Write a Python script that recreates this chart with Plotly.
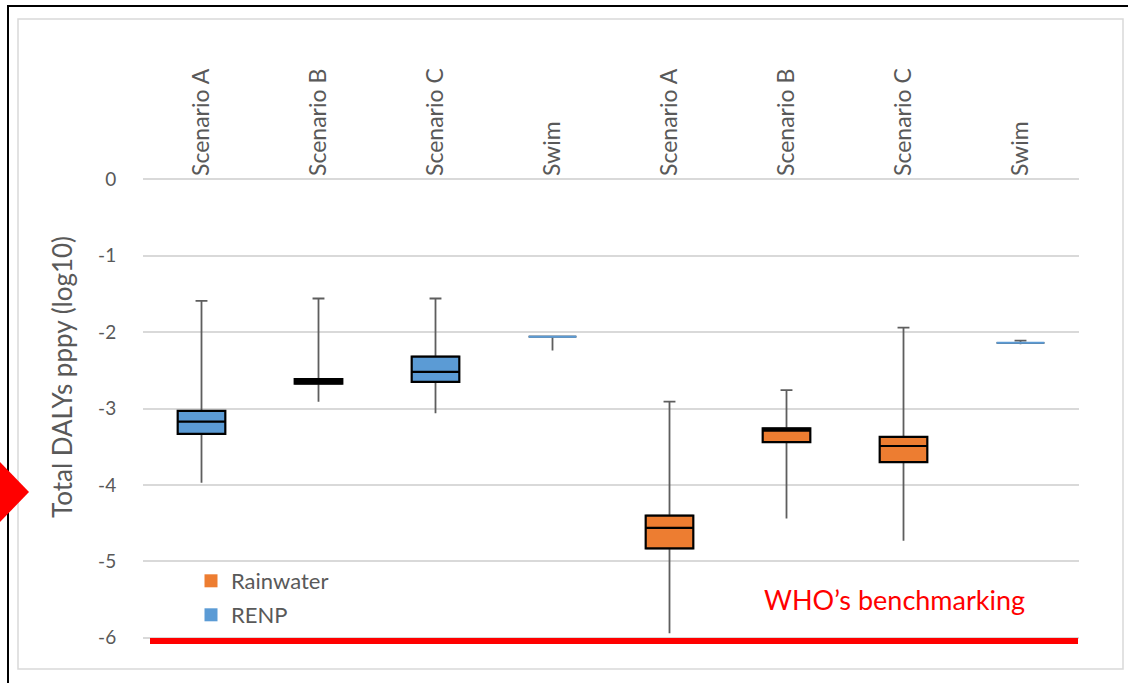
import plotly.graph_objects as go

# ---------------- data ----------------
categories = ["Scenario A", "Scenario B", "Scenario C", "Swim",
              "Scenario A", "Scenario B", "Scenario C", "Swim"]
groups = ["RENP", "RENP", "RENP", "Swim",
          "Rainwater", "Rainwater", "Rainwater", "Swim"]
lower_whisker = [-3.97, -2.91, -3.06, -2.24, -5.94, -4.44, -4.73, -2.16]
q1_values = [-3.33, -2.675, -2.65, -2.06, -4.83, -3.44, -3.70, -2.14]
median_values = [-3.17, -2.645, -2.52, -2.06, -4.56, -3.29, -3.49, -2.14]
q3_values = [-3.03, -2.615, -2.32, -2.06, -4.40, -3.26, -3.37, -2.14]
upper_whisker = [-1.59, -1.56, -1.56, -2.06, -2.91, -2.76, -1.94, -2.11]
y_ticks = [0, -1, -2, -3, -4, -5, -6]
y_tick_labels = ["0", "-1", "-2", "-3", "-4", "-5", "-6"]
who_benchmark = -6.04
legend_names = ["Rainwater", "RENP"]

# ---------------- styling ----------------
ORANGE = "#ED7D31"
BLUE = "#5B9BD5"
GRID = "#D9D9D9"
TEXT = "#595959"
WHISKER = "#5E5E5E"
FONT = "Lato"

W, H = 1128, 683
L, R, T, B = 143, 1079, 177, 647  # plot area in pixels


def px_x(p):
    return (p - L) / (R - L)


def px_y(p):
    return (B - p) / (B - T)


xpos = list(range(len(categories)))
BOX_W = 0.407

fig = go.Figure()

# upper whiskers (with caps)
fig.add_trace(go.Box(
    x=xpos, q1=q3_values, median=q3_values, q3=q3_values,
    lowerfence=q3_values, upperfence=upper_whisker,
    width=BOX_W, whiskerwidth=0.25, fillcolor="rgba(0,0,0,0)",
    line=dict(color=WHISKER, width=1.8), showlegend=False, hoverinfo="skip",
))
# lower whiskers (no caps)
fig.add_trace(go.Box(
    x=xpos, q1=q1_values, median=q1_values, q3=q1_values,
    lowerfence=lower_whisker, upperfence=q1_values,
    width=BOX_W, whiskerwidth=0, fillcolor="rgba(0,0,0,0)",
    line=dict(color=WHISKER, width=1.8), showlegend=False, hoverinfo="skip",
))

colors = {"RENP": BLUE, "Rainwater": ORANGE}
for g in ["RENP", "Rainwater"]:
    idx = [i for i, gg in enumerate(groups) if gg == g]
    fig.add_trace(go.Box(
        x=[xpos[i] for i in idx],
        q1=[q1_values[i] for i in idx],
        median=[median_values[i] for i in idx],
        q3=[q3_values[i] for i in idx],
        lowerfence=[q1_values[i] for i in idx],
        upperfence=[q3_values[i] for i in idx],
        width=BOX_W, whiskerwidth=0, fillcolor=colors[g],
        line=dict(color="black", width=2.2), showlegend=False, name=g,
    ))

idx = [i for i, gg in enumerate(groups) if gg == "Swim"]
fig.add_trace(go.Box(
    x=[xpos[i] for i in idx],
    q1=[q1_values[i] for i in idx],
    median=[median_values[i] for i in idx],
    q3=[q3_values[i] for i in idx],
    lowerfence=[q1_values[i] for i in idx],
    upperfence=[q3_values[i] for i in idx],
    width=BOX_W, whiskerwidth=0, fillcolor=BLUE,
    line=dict(color=BLUE, width=2), showlegend=False, name="Swim",
))

# legend entries
fig.add_trace(go.Scatter(x=[None], y=[None], mode="markers", name=legend_names[0],
                         marker=dict(symbol="square", size=13, color=ORANGE),
                         legend="legend"))
fig.add_trace(go.Scatter(x=[None], y=[None], mode="markers", name=legend_names[1],
                         marker=dict(symbol="square", size=13, color=BLUE),
                         legend="legend2"))

shapes = [
    # benchmark line
    dict(type="line", xref="paper", yref="y", x0=px_x(150), x1=px_x(1078),
         y0=who_benchmark, y1=who_benchmark, line=dict(color="#FF0000", width=6)),
    # inner grey frame
    dict(type="rect", xref="paper", yref="paper", x0=px_x(18), x1=px_x(1123),
         y0=px_y(669), y1=px_y(19), line=dict(color=GRID, width=1.5), layer="below"),
    # outer black frame (left and top)
    dict(type="path", xref="paper", yref="paper",
         path=f"M {px_x(8)},{px_y(690)} L {px_x(8)},{px_y(6)} L {px_x(1130)},{px_y(6)}",
         line=dict(color="black", width=2)),
    # red pointer
    dict(type="path", xref="paper", yref="paper",
         path=f"M {px_x(-31)},{px_y(492)} L {px_x(0)},{px_y(462)} L {px_x(29)},{px_y(492)} "
              f"L {px_x(0)},{px_y(522)} Z",
         fillcolor="#FF0000", line=dict(width=0)),
]

annotations = [
    dict(text="WHO’s benchmarking", x=5.92, y=-5.5, xref="x", yref="y",
         showarrow=False, font=dict(family=FONT, size=27, color="#FF0000")),
    dict(text="Total DALYs pppy (log10)", x=px_x(44), y=px_y(377),
         xref="paper", yref="paper", showarrow=False, textangle=-90,
         font=dict(family=FONT, size=26, color=TEXT)),
]

fig.update_layout(
    width=W, height=H,
    margin=dict(l=L, r=W - R, t=T, b=H - B, pad=0),
    paper_bgcolor="white", plot_bgcolor="white",
    boxmode="overlay",
    font=dict(family=FONT, color=TEXT),
    shapes=shapes, annotations=annotations,
    legend=dict(x=px_x(191), y=px_y(581), xanchor="left", yanchor="middle",
                bgcolor="rgba(0,0,0,0)", font=dict(family=FONT, size=22, color=TEXT)),
    legend2=dict(x=px_x(191), y=px_y(615), xanchor="left", yanchor="middle",
                 bgcolor="rgba(0,0,0,0)", font=dict(family=FONT, size=22, color=TEXT)),
    xaxis=dict(range=[-0.5, len(categories) - 0.5], tickvals=xpos, ticktext=categories,
               side="top", tickangle=-90, showgrid=False, zeroline=False,
               showline=False, ticks="", tickfont=dict(family=FONT, size=23, color=TEXT)),
    yaxis=dict(range=[-6.12, 0.03], tickvals=y_ticks, ticktext=y_tick_labels,
               showgrid=True, gridcolor=GRID, gridwidth=1.5, zeroline=False,
               showline=False, ticks="outside", ticklen=22, tickcolor="rgba(0,0,0,0)",
               tickfont=dict(family=FONT, size=19, color=TEXT)),
)

fig.write_html("out.html", config={"displayModeBar": False},
               post_script="document.body.style.margin='0';")
